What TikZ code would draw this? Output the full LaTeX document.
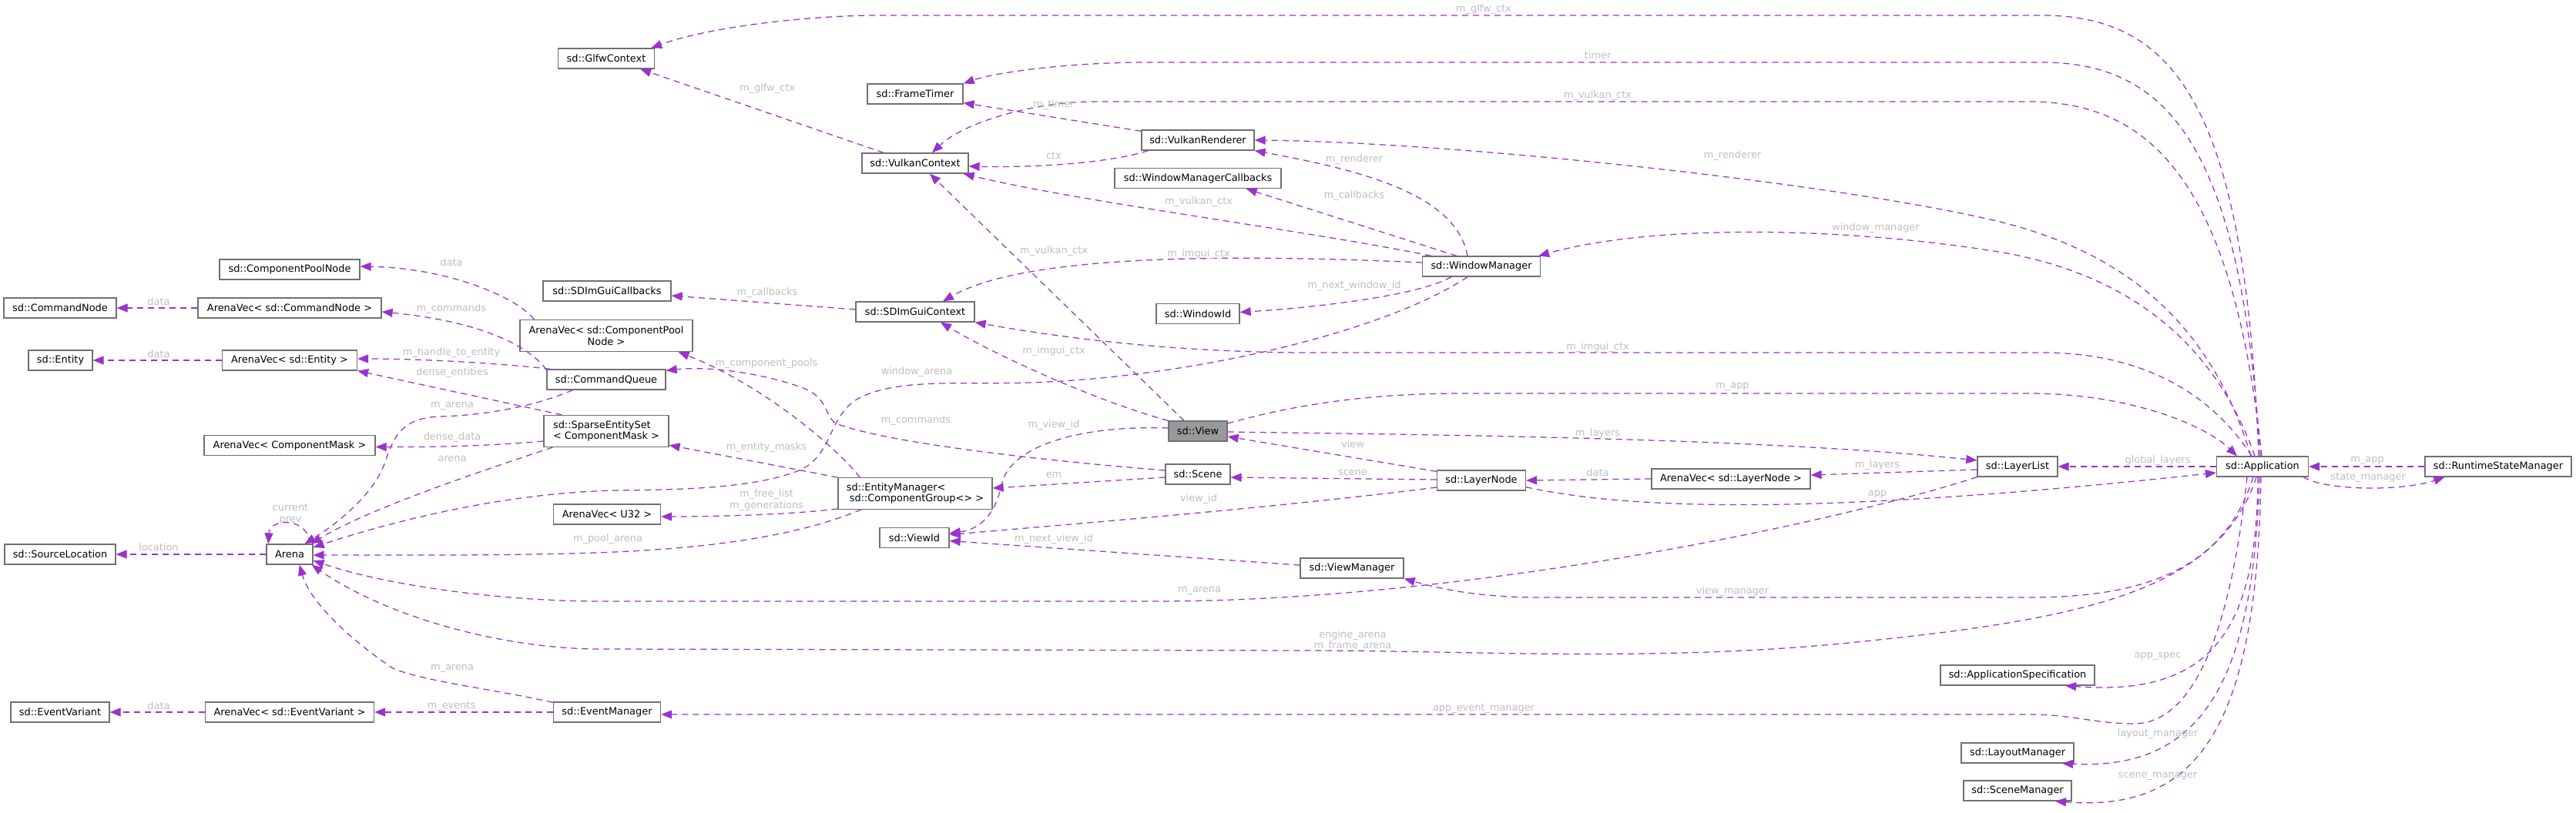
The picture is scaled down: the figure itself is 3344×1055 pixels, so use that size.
\documentclass[tikz,border=0pt]{standalone}
\usepackage{fontspec}
\setmainfont{DejaVu Sans}
\usetikzlibrary{arrows.meta}
\definecolor{edgec}{HTML}{9A32CD}
\definecolor{lblc}{HTML}{BEBEBE}
\definecolor{boxc}{HTML}{707070}
\definecolor{focusc}{HTML}{999999}
\newcommand\nfont{\fontsize{12.9pt}{14.6pt}\selectfont}
\begin{document}
\begin{tikzpicture}[x=1pt,y=-1pt,
 box/.style={draw=boxc,line width=1.3pt,fill=white,inner sep=0pt,minimum height=26pt,font=\nfont,text=black},
 edge/.style={draw=edgec,line width=1.25pt,dash pattern=on 8pt off 6pt,-{Triangle[length=14pt,width=11pt]}},
 lbl/.style={text=lblc,font=\nfont,inner sep=0pt,align=center}]
\fill[white] (0,0) rectangle (3344,1055);
\useasboundingbox (0,0) rectangle (3344,1055);
% nodes
\node[box,minimum width=125pt] (glfw) at (787,76) {sd::GlfwContext};
\node[box,minimum width=182pt] (cpn) at (376,350) {sd::ComponentPoolNode};
\node[box,minimum width=146pt] (cmdnode) at (78,400) {sd::CommandNode};
\node[box,minimum width=238pt] (avcmd) at (376,400) {ArenaVec< sd::CommandNode >};
\node[box,minimum width=166pt] (imguicb) at (788,378) {sd::SDImGuiCallbacks};
\node[box,minimum width=224pt,minimum height=41pt,align=center] (avcpn) at (787,436) {ArenaVec< sd::ComponentPool\\Node >};
\node[box,minimum width=83pt] (entity) at (78.5,468) {sd::Entity};
\node[box,minimum width=175pt] (aventity) at (376,468) {ArenaVec< sd::Entity >};
\node[box,minimum width=154pt] (cmdq) at (787,493) {sd::CommandQueue};
\node[box,minimum width=162pt,minimum height=41pt,align=left] (sparse) at (787,560) {sd::SparseEntitySet\\< ComponentMask >};
\node[box,minimum width=222pt] (avmask) at (376,578.5) {ArenaVec< ComponentMask >};
\node[box,minimum width=139pt] (avu32) at (788,668) {ArenaVec< U32 >};
\node[box,minimum width=144pt] (srcloc) at (78,720) {sd::SourceLocation};
\node[box,minimum width=60pt] (arena) at (376,720) {Arena};
\node[box,minimum width=128pt] (evvar) at (78,925) {sd::EventVariant};
\node[box,minimum width=219pt] (avev) at (376,925) {ArenaVec< sd::EventVariant >};
\node[box,minimum width=139pt] (evmgr) at (788,925) {sd::EventManager};
\node[box,minimum width=124pt] (frametimer) at (1188,122) {sd::FrameTimer};
\node[box,minimum width=138pt] (vkctx) at (1188,212) {sd::VulkanContext};
\node[box,minimum width=146pt] (vkrend) at (1555,182) {sd::VulkanRenderer};
\node[box,minimum width=216pt] (wmcb) at (1555,231.5) {sd::WindowManagerCallbacks};
\node[box,minimum width=153pt] (wm) at (1923,346) {sd::WindowManager};
\node[box,minimum width=154pt] (imguictx) at (1188,405) {sd::SDImGuiContext};
\node[box,minimum width=108pt] (winid) at (1555,407.5) {sd::WindowId};
\node[box,minimum width=76pt,fill=focusc] (view) at (1555,560) {sd::View};
\node[box,minimum width=84pt] (scene) at (1555,616) {sd::Scene};
\node[box,minimum width=115pt] (layernode) at (1923,624) {sd::LayerNode};
\node[box,minimum width=200pt,minimum height=40.5pt,align=left] (em) at (1188,641) {sd::EntityManager<\\\hspace*{4pt}sd::ComponentGroup<> >};
\node[box,minimum width=90pt] (viewid) at (1187,698.5) {sd::ViewId};
\node[box,minimum width=134pt] (viewmgr) at (1755,738) {sd::ViewManager};
\node[box,minimum width=104pt] (layerlist) at (2619,606) {sd::LayerList};
\node[box,minimum width=206pt] (avlayer) at (2247,622) {ArenaVec< sd::LayerNode >};
\node[box,minimum width=119pt] (app) at (2937,606) {sd::Application};
\node[box,minimum width=190pt] (rsm) at (3243,606) {sd::RuntimeStateManager};
\node[box,minimum width=200pt] (appspec) at (2619,877) {sd::ApplicationSpecification};
\node[box,minimum width=146pt] (layoutmgr) at (2619,978) {sd::LayoutManager};
\node[box,minimum width=140pt] (scenemgr) at (2619,1027) {sd::SceneManager};
% edges
\draw[edge] ([shift={(-5,0)}]app.north) .. controls (2915,150) and (2830,20) .. (2651,20) -- (1140,20) .. controls (1050,20) and (920,35) .. ([shift={(-5,0)}]glfw.north east);
\draw[edge] ([shift={(-41,0)}]vkctx.north) -- ([shift={(-19,0)}]glfw.south east);
\draw[edge] ([shift={(-3,0)}]app.north) .. controls (2910,200) and (2820,81) .. (2651,81) -- (1491,81) .. controls (1380,81) and (1290,95) .. (frametimer.north east);
\draw[edge] ([shift={(0,2)}]vkrend.north west) -- ([shift={(0,-2)}]frametimer.south east);
\draw[edge] ([shift={(-1,0)}]app.north) .. controls (2900,250) and (2800,132) .. (2634,132) -- (1421,132) .. controls (1340,132) and (1250,160) .. ([shift={(22,0)}]vkctx.north);
\draw[edge] ([shift={(9,0)}]vkrend.south west) .. controls (1440,212) and (1340,218) .. ([shift={(0,4)}]vkctx.east);
\draw[edge] ([shift={(12,0)}]wm.north west) .. controls (1700,300) and (1400,262) .. ([shift={(-7,0)}]vkctx.south east);
\draw[edge] ([shift={(-18,0)}]view.north) -- ([shift={(19,0)}]vkctx.south);
\draw[edge] ([shift={(-15,0)}]app.north) .. controls (2870,420) and (2760,330) .. (2600,289) .. controls (2400,240) and (1900,185) .. (vkrend.east);
\draw[edge] ([shift={(-18,0)}]wm.north) .. controls (1890,250) and (1760,220) .. (vkrend.south east);
\draw[edge] ([shift={(45,0)}]wm.north west) -- ([shift={(-46,0)}]wmcb.south east);
\draw[edge] ([shift={(-10,0)}]app.north) .. controls (2880,460) and (2780,360) .. (2600,328) .. controls (2400,295) and (2150,290) .. ([shift={(-3,0)}]wm.north east);
\draw[edge] ([shift={(0,-5)}]wm.west) .. controls (1600,330) and (1330,330) .. ([shift={(36,0)}]imguictx.north);
\draw[edge] ([shift={(-14,0)}]app.north) .. controls (2870,510) and (2780,458) .. (2651,458) -- (1700,458) .. controls (1500,458) and (1340,432) .. (imguictx.south east);
\draw[edge] (view.north west) .. controls (1420,520) and (1290,460) .. ([shift={(33,0)}]imguictx.south);
\draw[edge] ([shift={(0,-3)}]imguictx.west) -- ([shift={(0,6)}]imguicb.east);
\draw[edge] ([shift={(-39,0)}]wm.south) .. controls (1840,385) and (1700,400) .. ([shift={(0,-2)}]winid.east);
\draw[edge] ([shift={(-18,0)}]wm.south) .. controls (1800,430) and (1550,490) .. (1337,497) .. controls (1250,500) and (1160,490) .. (1110,520) .. controls (1075,545) and (1080,590) .. (1040,610) .. controls (980,635) and (880,636) .. (800,637) .. controls (650,640) and (500,680) .. ([shift={(0,-9)}]arena.east);
\draw[edge] ([shift={(0,-4)}]view.west) .. controls (1400,552) and (1310,580) .. (1300,630) .. controls (1292,670) and (1270,688) .. ([shift={(0,-6)}]viewid.east);
\draw[edge] ([shift={(0,-10)}]view.east) .. controls (1700,520) and (1800,511) .. (1900,511) -- (2634,511) .. controls (2760,511) and (2860,550) .. ([shift={(-33,0)}]app.north);
\draw[edge] ([shift={(0,1)}]view.east) .. controls (1900,565) and (2300,570) .. ([shift={(0,-8)}]layerlist.west);
\draw[edge] ([shift={(0,2)}]layernode.north west) -- ([shift={(0,7)}]view.east);
\draw[edge] ([shift={(0,-1)}]layernode.west) -- ([shift={(0,4)}]scene.east);
\draw[edge] ([shift={(0,9)}]layernode.west) .. controls (1650,660) and (1400,680) .. ([shift={(0,-4)}]viewid.east);
\draw[edge] ([shift={(0,4)}]scene.west) -- ([shift={(0,-7)}]em.east);
\draw[edge] ([shift={(0,-5)}]scene.west) .. controls (1350,598) and (1150,575) .. (1085,550) .. controls (1070,540) and (1075,515) .. (1040,503) .. controls (990,485) and (920,475) .. ([shift={(0,2)}]cmdq.north east);
\draw[edge] ([shift={(29,0)}]em.north west) .. controls (1085,580) and (990,500) .. ([shift={(-19,0)}]avcpn.south east);
\draw[edge] (em.north west) -- ([shift={(0,-3)}]sparse.south east);
\draw[edge] ([shift={(0,-1)}]em.south west) .. controls (1040,667) and (950,671) .. ([shift={(0,3)}]avu32.east);
\draw[edge] ([shift={(-70,0)}]em.south) .. controls (1050,690) and (950,712) .. (772,718) .. controls (650,722) and (500,721) .. ([shift={(0,1)}]arena.east);
\draw[edge] ([shift={(5,0)}]cmdq.north west) .. controls (650,472) and (550,466) .. ([shift={(0,-2)}]aventity.east);
\draw[edge] ([shift={(0,1)}]cmdq.north west) .. controls (680,440) and (600,415) .. ([shift={(0,5)}]avcmd.east);
\draw[edge] ([shift={(34,0)}]cmdq.south west) .. controls (690,530) and (620,540) .. (570,541) .. controls (520,543) and (510,570) .. (500,600) .. controls (485,645) and (430,685) .. ([shift={(-11,0)}]arena.north east);
\draw[edge] ([shift={(24,0)}]sparse.north west) -- (aventity.south east);
\draw[edge] ([shift={(0,13)}]sparse.west) .. controls (650,578) and (580,581) .. ([shift={(0,2)}]avmask.east);
\draw[edge] ([shift={(12,0)}]sparse.south west) .. controls (630,610) and (480,660) .. ([shift={(-3,0)}]arena.north east);
\draw[edge] ([shift={(-5,0)}]arena.north east) .. controls (402,672) and (350,672) .. ([shift={(3,0)}]arena.north west);
\draw[edge] (arena.west) -- (srcloc.east);
\draw[edge] (avcmd.west) -- (cmdnode.east);
\draw[edge] (aventity.west) -- (entity.east);
\draw[edge] ([shift={(19,0)}]avcpn.north west) .. controls (670,385) and (580,348) .. ([shift={(0,-4)}]cpn.east);
\draw[edge] (avev.west) -- (evvar.east);
\draw[edge] (evmgr.west) -- (avev.east);
\draw[edge] ([shift={(0,1)}]evmgr.north west) .. controls (640,895) and (550,885) .. (510,868) .. controls (475,845) and (405,790) .. ([shift={(-18,0)}]arena.south east);
\draw[edge] ([shift={(-20,0)}]app.south) .. controls (2900,780) and (2860,940) .. (2770,940) .. controls (2720,940) and (2690,928) .. (2634,928) -- ([shift={(0,3)}]evmgr.east);
\draw[edge] (layerlist.south west) .. controls (2380,680) and (1900,781) .. (1500,781) -- (780,781) .. controls (650,781) and (500,760) .. ([shift={(0,8)}]arena.east);
\draw[edge] ([shift={(-12,0)}]app.south) .. controls (2890,730) and (2800,776) .. (2634,776) -- (2000,776) .. controls (1920,776) and (1870,765) .. (viewmgr.south east);
\draw[edge] ([shift={(-8,0)}]app.south) .. controls (2880,770) and (2700,805) .. (2400,835) .. controls (2150,860) and (1900,845) .. (1700,845) -- (780,843) .. controls (650,843) and (500,800) .. ([shift={(-2,0)}]arena.south east);
\draw[edge] ([shift={(-6,0)}]app.south) .. controls (2930,820) and (2870,905) .. ([shift={(62,0)}]appspec.south);
\draw[edge] ([shift={(-4,0)}]app.south) .. controls (2925,900) and (2850,1000) .. ([shift={(58,0)}]layoutmgr.south);
\draw[edge] ([shift={(-2,0)}]app.south) .. controls (2930,950) and (2850,1055) .. ([shift={(49,0)}]scenemgr.south);
\draw[edge] (app.west) -- (layerlist.east);
\draw[edge] ([shift={(0,4)}]layerlist.west) -- ([shift={(0,-5)}]avlayer.east);
\draw[edge] (avlayer.west) -- (layernode.east);
\draw[edge] ([shift={(0,-5)}]layernode.south east) .. controls (2150,670) and (2450,660) .. ([shift={(0,8)}]app.west);
\draw[edge] (rsm.west) -- (app.east);
\draw[edge] ([shift={(-7,0)}]app.south east) .. controls (3020,638) and (3120,638) .. ([shift={(26,0)}]rsm.south west);
\draw[edge] ([shift={(0,-4)}]viewmgr.west) -- ([shift={(0,4)}]viewid.east);
% labels
\node[lbl] (l1) at (1926,12) {m\_glfw\_ctx};
\node[lbl] (l2) at (996,115) {m\_glfw\_ctx};
\node[lbl] (l3) at (2074,72) {timer};
\node[lbl] (l4) at (1368,136) {m\_timer};
\node[lbl] (l5) at (2074,124) {m\_vulkan\_ctx};
\node[lbl] (l6) at (1368,202) {ctx};
\node[lbl] (l7) at (1556,262) {m\_vulkan\_ctx};
\node[lbl] (l8) at (1368,326) {m\_vulkan\_ctx};
\node[lbl] (l9) at (2249,202) {m\_renderer};
\node[lbl] (l10) at (1758,207) {m\_renderer};
\node[lbl] (l11) at (1758,254) {m\_callbacks};
\node[lbl] (l12) at (2435,296) {window\_manager};
\node[lbl] (l13) at (1556,330) {m\_imgui\_ctx};
\node[lbl] (l14) at (2074,451) {m\_imgui\_ctx};
\node[lbl] (l15) at (1368,456) {m\_imgui\_ctx};
\node[lbl] (l16) at (996,380) {m\_callbacks};
\node[lbl] (l17) at (1758,371) {m\_next\_window\_id};
\node[lbl] (l18) at (1190,483) {window\_arena};
\node[lbl] (l19) at (1368,552) {m\_view\_id};
\node[lbl] (l20) at (2249,502) {m\_app};
\node[lbl] (l21) at (2074,563) {m\_layers};
\node[lbl] (l22) at (1756,577) {view};
\node[lbl] (l23) at (1756,614) {scene};
\node[lbl] (l24) at (1556,648) {view\_id};
\node[lbl] (l25) at (1368,617) {em};
\node[lbl] (l26) at (1189,546) {m\_commands};
\node[lbl] (l27) at (995,472) {m\_component\_pools};
\node[lbl] (l28) at (995,581) {m\_entity\_masks};
\node[lbl] (l29) at (995,649.5) {m\_free\_list\\m\_generations};
\node[lbl] (l30) at (789,700) {m\_pool\_arena};
\node[lbl] (l31) at (586,458) {m\_handle\_to\_entity};
\node[lbl] (l32) at (586,401) {m\_commands};
\node[lbl] (l33) at (587,527) {m\_arena};
\node[lbl] (l34) at (587,484) {dense\_entities};
\node[lbl] (l35) at (587,568) {dense\_data};
\node[lbl] (l36) at (587,596) {arena};
\node[lbl] (l37) at (377,668) {current\\prev};
\node[lbl] (l38) at (206,711) {location};
\node[lbl] (l39) at (206,392) {data};
\node[lbl] (l40) at (206,460) {data};
\node[lbl] (l41) at (586,341) {data};
\node[lbl] (l42) at (206,917) {data};
\node[lbl] (l43) at (586,917) {m\_events};
\node[lbl] (l44) at (587,868) {m\_arena};
\node[lbl] (l45) at (1926,920) {app\_event\_manager};
\node[lbl] (l46) at (1557,767) {m\_arena};
\node[lbl] (l47) at (2249,768) {view\_manager};
\node[lbl] (l48) at (1756,832) {engine\_arena\\m\_frame\_arena};
\node[lbl] (l49) at (2801,852) {app\_spec};
\node[lbl] (l50) at (2801,953) {layout\_manager};
\node[lbl] (l51) at (2801,1008) {scene\_manager};
\node[lbl] (l52) at (2801,598) {global\_layers};
\node[lbl] (l53) at (2437,604) {m\_layers};
\node[lbl] (l54) at (2074,614) {data};
\node[lbl] (l55) at (2437,642) {app};
\node[lbl] (l56) at (3073,598) {m\_app};
\node[lbl] (l57) at (3074,620) {state\_manager};
\node[lbl] (l58) at (1368,700) {m\_next\_view\_id};
\end{tikzpicture}
\end{document}
